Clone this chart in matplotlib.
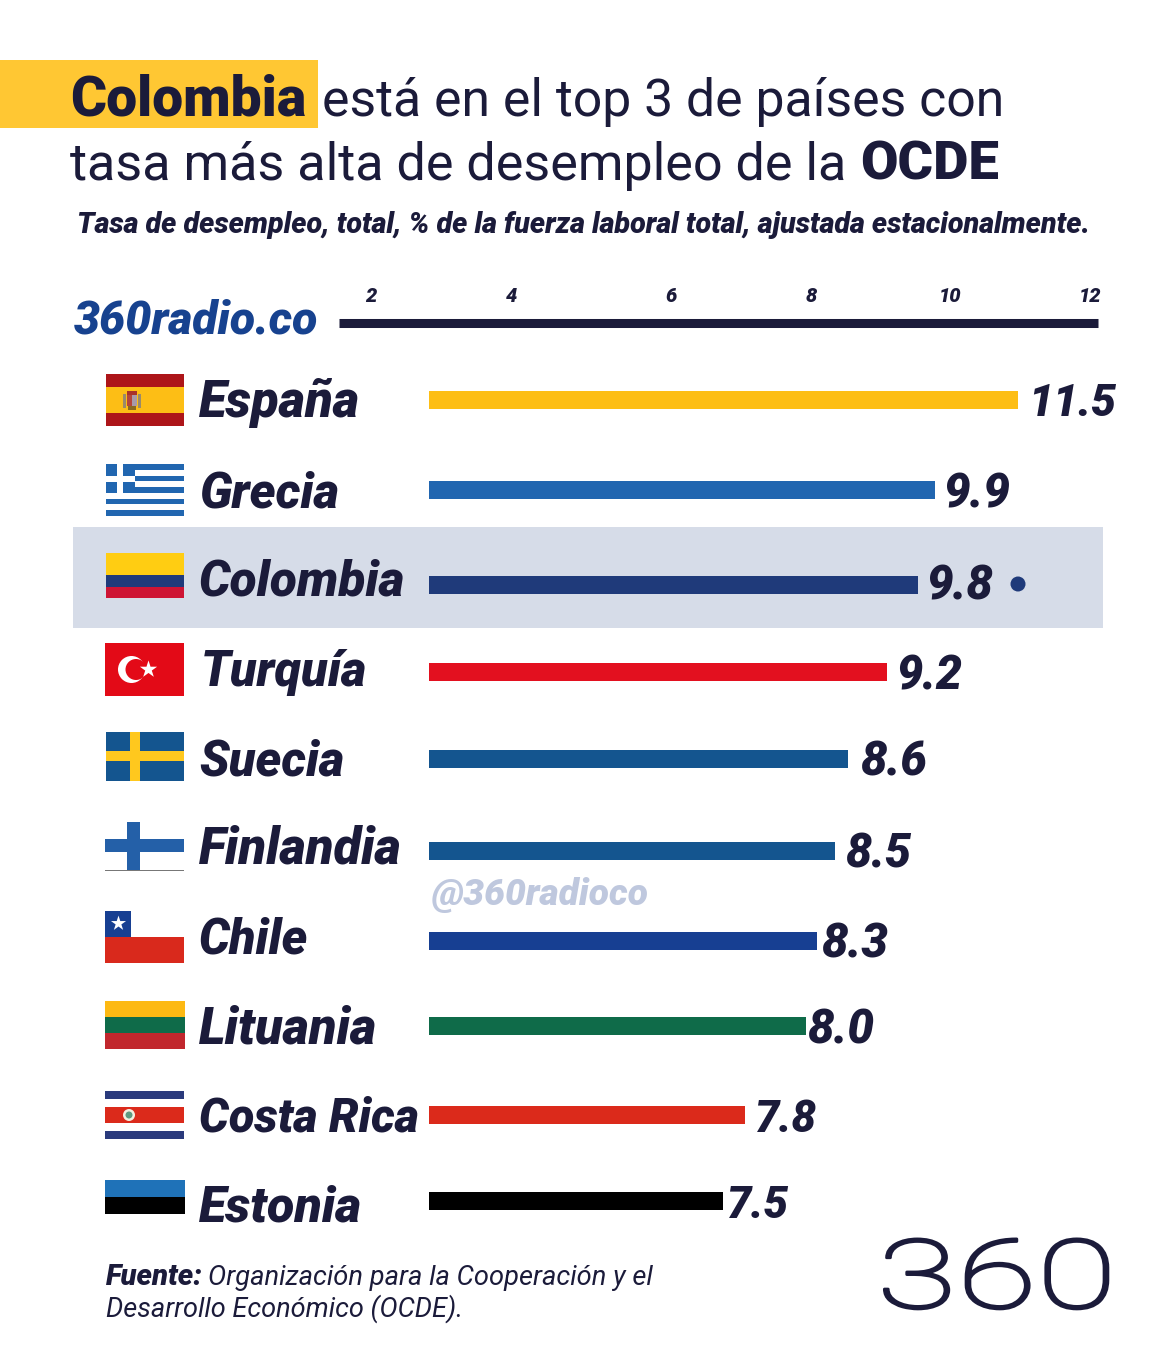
#!/usr/bin/env python
# coding=utf-8
import matplotlib
matplotlib.use('agg')
import matplotlib.pyplot as plt
from matplotlib.patches import Rectangle, Circle
from matplotlib.patheffects import AbstractPathEffect
from matplotlib.transforms import Affine2D

# datos
paises = ['España', 'Grecia', 'Colombia', 'Turquía', 'Suecia', 'Finlandia', 'Chile', 'Lituania', 'Costa Rica', 'Estonia']
tasa = ['11.5', '9.9', '9.8', '9.2', '8.6', '8.5', '8.3', '8.0', '7.8', '7.5']
# largo de cada barra leido contra la escala de arriba (la barra no sigue la etiqueta)
largo = [11.0, 9.84, 9.61, 9.18, 8.63, 8.45, 8.20, 8.05, 7.20, 6.90]
colores = ['#FDBE15', '#2166B0', '#1F3A7A', '#E3101F', '#14558F', '#14558F', '#173F92', '#0F6B49', '#DB2A1B', '#000000']
escala_pos = [2, 3.95, 6.17, 8.12, 10.05, 12]
escala_txt = ['2', '4', '6', '8', '10', '12']
base = 2.81

# layout en pixeles
W, H = 1152, 1363
OSCURO = '#1B1B3A'
FAM = 'Roboto'
fila_y = [400, 490, 585, 672, 759, 851, 941, 1026, 1115, 1201]
nombre_x = [(199, 360, 417), (199, 339, 507), (199, 405, 596), (201, 367, 686), (199, 344, 775),
            (199, 402, 864), (199, 308, 954), (199, 377, 1043), (199, 419, 1132), (199, 362, 1222)]
valor_x = [(1028, 1116, 416), (943, 1010, 507), (926, 993, 600), (896, 962, 689), (860, 927, 775),
           (845, 911, 868), (821, 888, 958), (807, 874, 1043), (755, 817, 1132), (727, 789, 1218)]

fig = plt.figure(figsize=(W / 100, H / 100), dpi=100, facecolor='white')
fondo = fig.add_axes([0, 0, 1, 1], zorder=0)
fondo.set_xlim(0, W)
fondo.set_ylim(H, 0)
fondo.axis('off')
rend = fig.canvas.get_renderer()


class Estirar(AbstractPathEffect):
    # ensancha y engrosa el texto desde x0 (pixeles), para el logo
    def __init__(self, x0, sx, grueso, color):
        super().__init__()
        self.x0 = x0
        self.sx = sx
        self.grueso = grueso
        self.color = color

    def draw_path(self, renderer, gc, tpath, affine, rgbFace=None):
        aff = affine + Affine2D().translate(-self.x0, 0).scale(self.sx, 1).translate(self.x0, 0)
        gc.set_linewidth(self.grueso)
        gc.set_foreground(self.color)
        renderer.draw_path(gc, tpath, aff, rgbFace)


def put(s, x0, x1, y, weight='black', style='italic', color=OSCURO):
    # ajusta el tamaño para que el texto ocupe de x0 a x1
    t = fondo.text(x0, y, s, fontsize=30, family=FAM, weight=weight, style=style, color=color,
                   ha='left', va='baseline', zorder=5)
    ancho = t.get_window_extent(rend).width
    t.set_fontsize(30 * (x1 - x0) / ancho)
    return t


def rect(x0, y0, x1, y1, c, z=2):
    fondo.add_patch(Rectangle((x0, y0), x1 - x0, y1 - y0, facecolor=c, edgecolor='none', zorder=z))


def estrella(x, y, s):
    fondo.scatter([x], [y], s=s, marker='*', color='white', linewidths=0, zorder=4)


# fondos
rect(0, 60, 318, 128, '#FFC733', 1)
rect(73, 527, 1103, 628, '#D6DCE8', 1)

# titulo
put('Colombia', 70, 306, 116, style='normal')
put('está en el top 3 de países con', 322, 1003, 116, weight='normal', style='normal')
put('tasa más alta de desempleo de la', 70, 845, 180, weight='normal', style='normal')
put('OCDE', 860, 999, 180, style='normal')
put('Tasa de desempleo, total, % de la fuerza laboral total, ajustada estacionalmente.', 77, 1089, 233)
put('360radio.co', 74, 318, 333, color='#17428F')

# banderas
rect(106, 374, 184, 426, '#AD1519')
rect(106, 387, 184, 413, '#FDBE15', 3)
rect(123, 394, 126, 408, '#9A8A6A', 4)
rect(138, 394, 141, 408, '#9A8A6A', 4)
rect(127, 391, 137, 395, '#A8322A', 4)
rect(127, 395, 132, 406, '#B5453A', 4)
rect(132, 395, 137, 406, '#A89AA8', 4)
rect(128, 406, 136, 410, '#8A6A20', 4)
for k in range(9):
    rect(106, 464 + k * 52 / 9, 184, 464 + (k + 1) * 52 / 9, '#2166B0' if k % 2 == 0 else 'white')
rect(106, 464, 135, 493, '#2166B0', 3)
rect(117, 464, 123, 493, 'white', 4)
rect(106, 475.5, 135, 481.5, 'white', 4)
rect(106, 553, 184, 575, '#FFCD12')
rect(106, 575, 184, 587, '#1F3A7A')
rect(106, 587, 184, 598, '#CE1433')
rect(105, 643, 184, 696, '#E30A17')
fondo.add_patch(Circle((131.5, 669.5), 13.5, facecolor='white', edgecolor='none', zorder=3))
fondo.add_patch(Circle((136, 669.5), 10.5, facecolor='#E30A17', edgecolor='none', zorder=4))
estrella(148, 669, 170)
rect(106, 732, 184, 781, '#14558F')
rect(130, 732, 140, 781, '#FFC81E', 3)
rect(106, 751, 184, 761, '#FFC81E', 3)
rect(127, 822, 140, 870, '#2460A8', 3)
rect(105, 839, 184, 852, '#2460A8', 3)
rect(105, 870, 184, 871, '#777777')
rect(105, 911, 131, 937, '#173F92')
rect(105, 937, 184, 963, '#D9291C')
estrella(118, 923, 130)
rect(105, 1001, 185, 1017, '#FDB913')
rect(105, 1017, 185, 1033, '#0F6B49')
rect(105, 1033, 185, 1049, '#C1272D')
rect(105, 1091, 184, 1099, '#2A3A7C')
rect(105, 1107, 184, 1123, '#DB2A1B')
rect(105, 1131, 184, 1139, '#2A3A7C')
fondo.add_patch(Circle((129, 1115), 6, facecolor='#F2EFE0', edgecolor='none', zorder=3))
fondo.add_patch(Circle((129, 1115), 3.5, facecolor='#5E9A80', edgecolor='none', zorder=4))
rect(105, 1180, 185, 1197, '#1F72B8')
rect(105, 1197, 185, 1214, '#000000')

# barras, con la escala de arriba como eje
arriba = 322.5
ax = fig.add_axes([0, 0, 1, (H - arriba) / H], zorder=1)
ax.patch.set_alpha(0)
pend = (1090 - 371) / 10.0
ax.set_xlim(2 - 371 / pend, 2 + (W - 371) / pend)
ax.set_ylim(H, arriba)
ax.barh(fila_y, [v - base for v in largo], left=base, height=18.5, color=colores, linewidth=0)
ax.xaxis.tick_top()
ax.set_xticks(escala_pos)
ax.set_xticklabels(escala_txt, family=FAM, weight='black', style='italic', fontsize=14.5, color=OSCURO)
ax.tick_params(axis='x', length=0, pad=12)
ax.set_yticks([])
for lado in ['left', 'right', 'bottom']:
    ax.spines[lado].set_visible(False)
ax.spines['top'].set_bounds(2 + (339 - 371) / pend, 2 + (1098 - 371) / pend)
ax.spines['top'].set_linewidth(6.5)
ax.spines['top'].set_color(OSCURO)
ax.spines['top'].set_capstyle('butt')

for nom, pos in zip(paises, nombre_x):
    put(nom, pos[0], pos[1], pos[2])
for val, pos in zip(tasa, valor_x):
    put(val, pos[0], pos[1], pos[2])
fondo.add_patch(Circle((1018, 584), 7.5, facecolor='#1F3A7A', edgecolor='none', zorder=3))

put('@360radioco', 431, 648, 905, color='#BFC8DE')

# fuente
put('Fuente:', 106, 203, 1285)
put('Organización para la Cooperación y el', 208, 651, 1285, weight='normal')
put('Desarrollo Económico (OCDE).', 106, 463, 1317, weight='normal')

# logo
logo = fondo.text(877, 1308, '360', fontsize=69, family='Roboto', weight='light', color=OSCURO,
                  ha='left', va='baseline', zorder=5)
ext = logo.get_window_extent(rend)
logo.set_path_effects([Estirar(ext.x0, 240 / ext.width, 2.0, OSCURO)])

fig.savefig('out.png', dpi=100)
